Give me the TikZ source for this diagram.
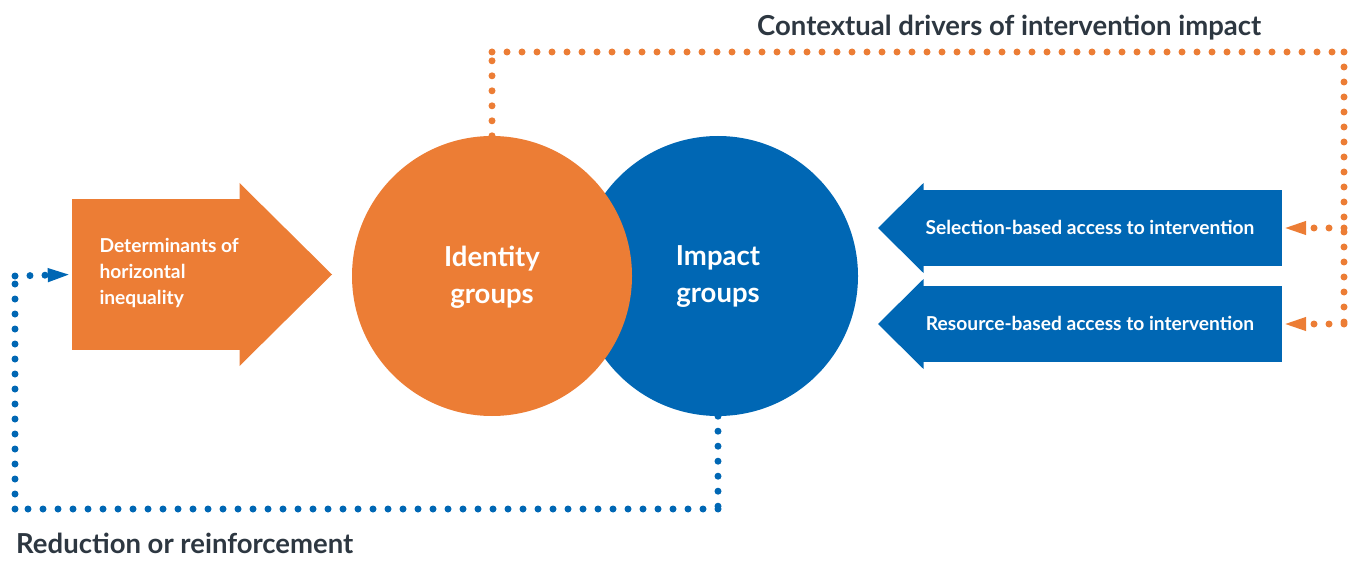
\documentclass[tikz,border=0pt]{standalone}
\usepackage{fontspec}
\setmainfont{Lato}
\usetikzlibrary{arrows.meta}
\definecolor{iorange}{HTML}{EC7D35}
\definecolor{iblue}{HTML}{0067B4}
\definecolor{ink}{HTML}{2D3741}
\begin{document}
\begin{tikzpicture}[x=1pt,y=-1pt,
  dots/.style={line width=7pt, line cap=round, dash pattern=on 0pt off 15pt},
  tip/.style={-{Triangle[length=24pt,width=12pt]}},
  body/.style={inner sep=0pt, minimum width=#1},
  disc/.style={circle, inner sep=0pt, minimum size=280pt, fill=#1},
  ctext/.style={text=white, font=\fontsize{27.5}{37}\selectfont\bfseries, align=center},
  btext/.style={text=white, font=\fontsize{19.2}{26}\selectfont\bfseries},
  heading/.style={text=ink, inner sep=0pt, font=\fontsize{27.5}{30}\selectfont\bfseries}]
\useasboundingbox (0,0) rectangle (1359,561);

% overlapping discs: impact behind identity
\node[disc=iblue] (imp) at (718,276) {};
\node[disc=iorange] (idc) at (492,276) {};
\node[ctext] (impt) at (718,277) {Impact\\groups};
\node[ctext] (idct) at (492,277) {Identity\\groups};

% left block arrow
\node[fill=iorange, body=168pt, minimum height=151pt] (det) at (156,274.5) {};
\fill[iorange] (239.5,183) -- (332,274.5) -- (239.5,366) -- cycle;
\node[btext, anchor=west, align=left] (dett) at (96,273) {Determinants of\\horizontal\\inequality};

% right block arrows
\node[fill=iblue, body=359pt, minimum height=76pt] (sel) at (1102.5,228) {};
\fill[iblue] (923.5,183) -- (878,228) -- (923.5,273) -- cycle;
\node[btext] (selt) at (1090,227) {Selection-based access to intervention};

\node[fill=iblue, body=359pt, minimum height=76pt] (res) at (1102.5,324) {};
\fill[iblue] (923.5,279) -- (878,324) -- (923.5,369) -- cycle;
\node[btext] (rest) at (1090,323) {Resource-based access to intervention};

% corner points of the feedback loops
\coordinate (oa) at (492,52);
\coordinate (ob) at (1344,52);
\coordinate (oc) at (1344,228);
\coordinate (od) at (1344,324);
\coordinate (ba) at (718,509);
\coordinate (bb) at (15,509);
\coordinate (bc) at (15,276);

% contextual drivers loop (orange)
\draw[iorange, dots] (idc.north) -- (oa);
\draw[iorange, dots] (oa) -- (ob);
\draw[iorange, dots] (ob) -- (od);
\draw[iorange, dots, tip] (oc) -- (sel.east);
\draw[iorange, dots, tip] (od) -- (res.east);

% reduction / reinforcement loop (blue)
\draw[iblue, dots] (imp.south) -- (ba);
\draw[iblue, dots] (ba) -- (bb);
\draw[iblue, dots] (bb) -- (bc);
\draw[iblue, dots, tip] (bc) -- (det.west);

% headings
\node[heading, anchor=base west] (top) at (757,36) {Contextual drivers of intervention impact};
\node[heading, anchor=base west] (bot) at (16,553) {Reduction or reinforcement};
\end{tikzpicture}
\end{document}
